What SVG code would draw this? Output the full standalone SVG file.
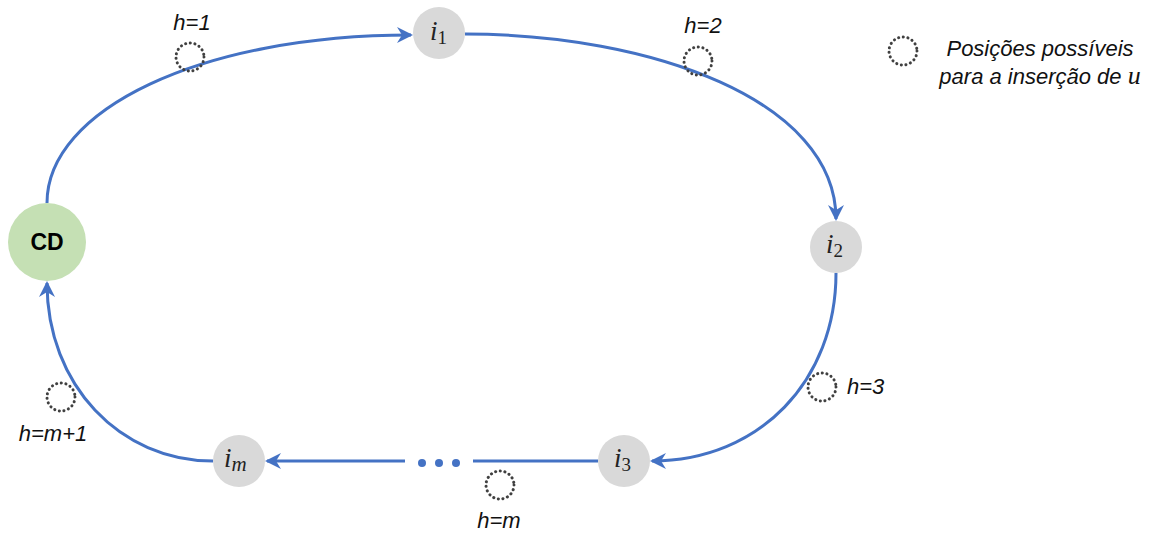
<svg xmlns="http://www.w3.org/2000/svg" width="1168" height="534" viewBox="0 0 1168 534">
<style>
.edge{fill:none;stroke:#4472C4;stroke-width:3}
.node{fill:#D9D9D9}
.pos{fill:none;stroke:#404040;stroke-width:3;stroke-dasharray:0.1 4.6;stroke-linecap:round}
.lbl{font-family:"Liberation Sans",Arial,sans-serif;font-style:italic;font-size:22px;fill:#111}
.math{font-family:"Liberation Serif","DejaVu Serif",serif;font-style:italic;font-size:27px;fill:#222}
.sub{font-family:"Liberation Serif","DejaVu Serif",serif;font-style:normal;font-size:19px}
.subi{font-family:"Liberation Serif","DejaVu Serif",serif;font-style:italic;font-size:21px}
</style>
<defs>
<marker id="arr" markerUnits="userSpaceOnUse" markerWidth="18" markerHeight="18" refX="14" refY="8" orient="auto">
<path d="M0,0 L16,8 L0,16 L5,8 z" fill="#4472C4"/>
</marker>
</defs>
<g id="connectors">
<path class="edge" d="M47,203 C47,110 200,35 411,35" marker-end="url(#arr)"/>
<path class="edge" d="M465,34 C650,34 836,100 836,219" marker-end="url(#arr)"/>
<path class="edge" d="M836,273 C836,380 760,461 652,461" marker-end="url(#arr)"/>
<path class="edge" d="M598,461 L473,461"/>
<path class="edge" d="M405,461 L267,461" marker-end="url(#arr)"/>
<path class="edge" d="M213,461 C120,461 47,385 47,283" marker-end="url(#arr)"/>
<circle cx="422" cy="463" r="4" fill="#4472C4"/>
<circle cx="439" cy="463" r="4" fill="#4472C4"/>
<circle cx="456" cy="463" r="4" fill="#4472C4"/>
</g>
<g id="CD">
<circle cx="47" cy="242" r="39" fill="#C5E0B4"/>
<text x="47" y="250" text-anchor="middle" font-family="Liberation Sans,Arial,sans-serif" font-weight="bold" font-size="23">CD</text>
</g>
<g id="i1">
<circle class="node" cx="439" cy="33" r="26"/>
<text class="math" x="430" y="40">i<tspan class="sub" dy="4">1</tspan></text>
</g>
<g id="i2">
<circle class="node" cx="836" cy="247" r="26"/>
<text class="math" x="826" y="253">i<tspan class="sub" dy="4">2</tspan></text>
</g>
<g id="i3">
<circle class="node" cx="624" cy="461" r="26"/>
<text class="math" x="614" y="467">i<tspan class="sub" dy="4">3</tspan></text>
</g>
<g id="im">
<circle class="node" cx="239" cy="461" r="26"/>
<text class="math" x="224" y="467">i<tspan class="subi" dy="4">m</tspan></text>
</g>
<g id="positions">
<circle class="pos" cx="190" cy="57" r="14"/>
<text class="lbl" x="192" y="30" text-anchor="middle">h=1</text>
<circle class="pos" cx="698" cy="61" r="14"/>
<text class="lbl" x="703" y="33" text-anchor="middle">h=2</text>
<circle class="pos" cx="822" cy="387" r="14"/>
<text class="lbl" x="847" y="394">h=3</text>
<circle class="pos" cx="500" cy="485" r="14"/>
<text class="lbl" x="499" y="528" text-anchor="middle">h=m</text>
<circle class="pos" cx="61" cy="397" r="14"/>
<text class="lbl" x="53" y="441" text-anchor="middle">h=m+1</text>
</g>
<g id="legend">
<circle class="pos" cx="903" cy="51" r="14"/>
<text class="lbl" x="1040" y="56" text-anchor="middle">Posições possíveis</text>
<text class="lbl" x="1040" y="84" text-anchor="middle">para a inserção de <tspan font-family="Liberation Serif,serif" font-size="26">u</tspan></text>
</g>
</svg>
